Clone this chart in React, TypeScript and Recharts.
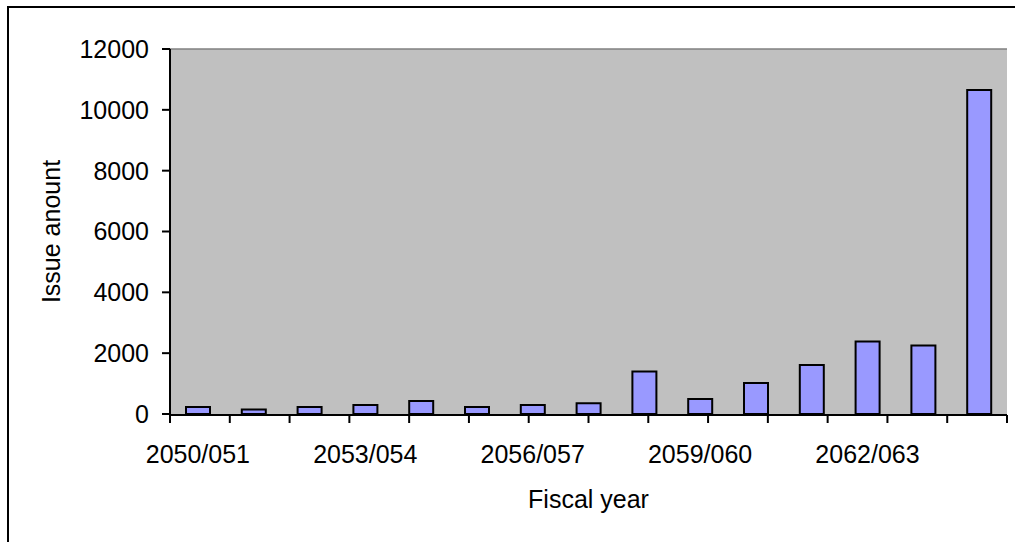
import React from 'react';
import { BarChart, Bar, XAxis, YAxis, CartesianGrid, ReferenceLine, Label } from 'recharts';

const categories = [
  '2050/051', '2051/052', '2052/053', '2053/054', '2054/055',
  '2055/056', '2056/057', '2057/058', '2058/059', '2059/060',
  '2060/061', '2061/062', '2062/063', '2063/064', '2064/065',
];
const issueAmounts = [230, 150, 230, 300, 430, 230, 300, 350, 1400, 490, 1020, 1610, 2380, 2250, 10650];
const yTicks = [0, 2000, 4000, 6000, 8000, 10000, 12000];
const boundaryTicks = [0, 1, 2, 3, 4, 5, 6, 7, 8, 9, 10, 11, 12, 13, 14, 15];

const data = categories.map((c, i) => ({ year: c, amount: issueAmounts[i] }));

const FONT = '"Liberation Sans", Arial, sans-serif';
const FS = 25;

const EmptyTick = () => <g />;

export default function App() {
  return (
    <div style={{ position: 'fixed', left: 0, top: 0, width: 1015, height: 542, overflow: 'hidden', background: '#fff' }}>
      <div
        style={{
          position: 'absolute', left: 7, top: 6, width: 1100, height: 600,
          borderTop: '2px solid #000', borderLeft: '2px solid #000', boxSizing: 'border-box',
        }}
      />
      <div style={{ position: 'absolute', left: 0, top: 0 }}>
        <BarChart width={1015} height={542} data={data} margin={{ top: 49, right: 8, bottom: 126, left: 0 }}>
          <CartesianGrid xAxisId="cat" fill="#C0C0C0" horizontal={false} vertical={false} stroke="none" />
          <XAxis
            xAxisId="num"
            type="number"
            domain={[0, 15]}
            allowDataOverflow
            ticks={boundaryTicks}
            interval={0}
            tick={EmptyTick}
            height={1}
            tickSize={8}
            tickLine={{ stroke: '#000', strokeWidth: 2 }}
            axisLine={{ stroke: '#000', strokeWidth: 2 }}
          />
          <XAxis
            xAxisId="cat"
            dataKey="year"
            type="category"
            height={1}
            interval={2}
            tickLine={false}
            axisLine={false}
            tickSize={8}
            tickMargin={23}
            tick={{ fill: '#000', fontSize: FS, fontFamily: FONT }}
          >
            <Label
              value="Fiscal year"
              position="bottom"
              offset={75}
              style={{ fill: '#000', fontSize: FS, fontFamily: FONT }}
            />
          </XAxis>
          <YAxis
            width={170}
            domain={[0, 12000]}
            ticks={yTicks}
            interval={0}
            tickSize={8}
            tickMargin={13}
            axisLine={{ stroke: '#000', strokeWidth: 2 }}
            tickLine={{ stroke: '#000', strokeWidth: 2 }}
            tick={{ fill: '#000', fontSize: FS, fontFamily: FONT }}
          >
            <Label
              content={(props: any) => {
                const vb = props.viewBox || {};
                const cy = (vb.y ?? 49) + (vb.height ?? 365) / 2;
                const cx = 60;
                return (
                  <text
                    x={cx}
                    y={cy}
                    transform={`rotate(-90 ${cx} ${cy})`}
                    textAnchor="middle"
                    fill="#000"
                    fontSize={FS}
                    fontFamily={FONT}
                  >
                    Issue anount
                  </text>
                );
              }}
            />
          </YAxis>
          <ReferenceLine xAxisId="cat" y={12000} stroke="#808080" strokeWidth={1.5} />
          <ReferenceLine xAxisId="num" x={15} stroke="#808080" strokeWidth={2} />
          <Bar
            xAxisId="cat"
            dataKey="amount"
            fill="#9999FF"
            stroke="#000"
            strokeWidth={2}
            barSize={24}
            isAnimationActive={false}
          />
        </BarChart>
      </div>
    </div>
  );
}
